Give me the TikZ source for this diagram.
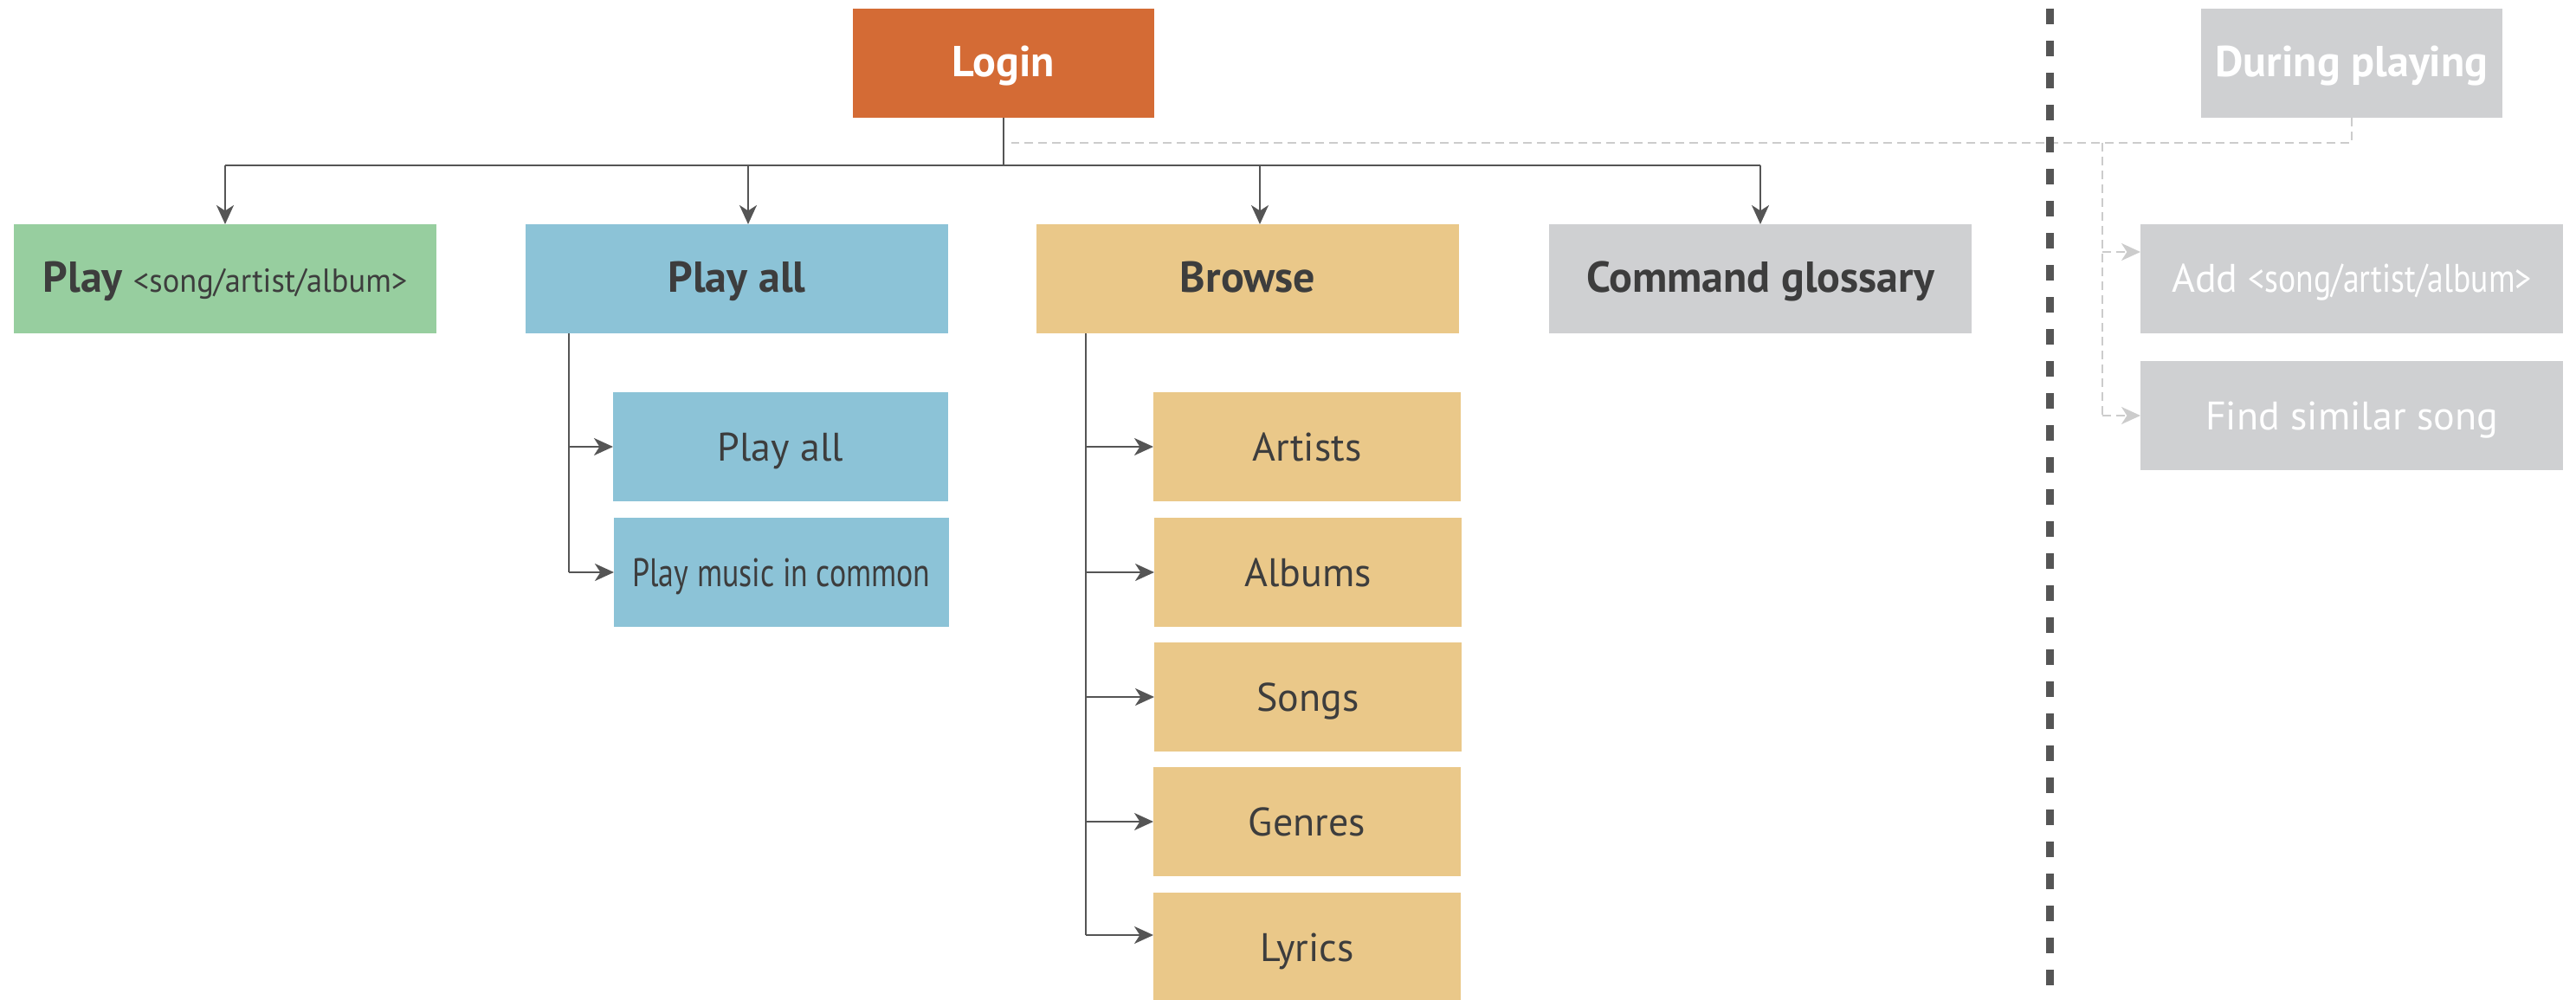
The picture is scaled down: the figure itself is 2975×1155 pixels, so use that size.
\documentclass[tikz,border=0pt]{standalone}
\usepackage{fontspec}
\setmainfont{PT Sans}
\usetikzlibrary{arrows.meta}

\definecolor{loginorange}{HTML}{D46B35}
\definecolor{playgreen}{HTML}{97CE9F}
\definecolor{playblue}{HTML}{8CC3D7}
\definecolor{browsetan}{HTML}{EAC889}
\definecolor{palegray}{HTML}{CFD0D2}
\definecolor{inkgray}{HTML}{3D3D3D}
\definecolor{wiregray}{HTML}{555555}
\definecolor{faintwire}{HTML}{CCCCCC}

\newcommand\labelfont{\fontsize{11.5}{13}\selectfont}
\newcommand\headfont{\fontsize{12.5}{14}\selectfont\bfseries}
\newcommand\smallfont{\fontsize{9.6}{11}\selectfont}
\newcommand\narrow[2]{\scalebox{#1}[1]{#2}}

\tikzset{
  box/.style={anchor=north west, inner sep=0pt, outer sep=0pt,
    minimum height=31.5pt, text height=8pt, text depth=0pt,
    align=center, font=\labelfont, text=inkgray},
  wide/.style={box, minimum width=122pt},
  headbox/.style={wide, font=\headfont},
  topbox/.style={box, minimum width=87pt, font=\headfont, text=white},
  subblue/.style={box, minimum width=96.75pt, fill=playblue},
  subtan/.style={box, minimum width=88.75pt, fill=browsetan},
  wire/.style={draw=wiregray, line width=0.6pt},
  faint/.style={draw=faintwire, line width=0.6pt, dash pattern=on 2.5pt off 1.5pt},
  divider/.style={draw=wiregray, line width=2.25pt, dash pattern=on 4.5pt off 4.75pt},
  >={Stealth[length=5.5pt, width=5pt, inset=1.6pt]}
}

\begin{document}
\begin{tikzpicture}[x=0.25pt, y=-0.25pt]
\useasboundingbox (0,0) rectangle (2975,1155);

% top level
\node[topbox, fill=loginorange] (login) at (985,10) {Login};
\node[topbox, fill=palegray] (during) at (2542,10) {During playing};

% first row
\node[wide, fill=playgreen] (play) at (16,259)
  {{\headfont Play} {\smallfont\narrow{0.95}{<song/artist/album>}}};
\node[headbox, fill=playblue] (playall) at (607,259) {Play all};
\node[headbox, fill=browsetan] (browse) at (1197,259) {Browse};
\node[headbox, fill=palegray] (glossary) at (1789,259) {Command glossary};
\node[wide, fill=palegray, text=white] (add) at (2472,259)
  {Add \narrow{0.82}{<song/artist/album>}};
\node[wide, fill=palegray, text=white] (similar) at (2472,417) {Find similar song};

% play-all children
\node[subblue] (pa) at (708,453) {Play all};
\node[subblue] (common) at (709,598) {\narrow{0.78}{Play music in common}};

% browse children
\node[subtan] (artists) at (1332,453) {Artists};
\node[subtan] (albums) at (1333,598) {Albums};
\node[subtan] (songs) at (1333,742) {Songs};
\node[subtan] (genres) at (1332,886) {Genres};
\node[subtan] (lyrics) at (1332,1031) {Lyrics};

% main bus from Login
\coordinate (busy) at (0,191);
\draw[wire] (login.south) -- (login.south |- busy);
\draw[wire] (play.north |- busy) -- (glossary.north |- busy);
\draw[wire,->] (play.north |- busy) -- (play.north);
\draw[wire,->] ([xshift=3.25pt]playall.north |- busy) -- ([xshift=3.25pt]playall.north);
\draw[wire,->] ([xshift=3.5pt]browse.north |- busy) -- ([xshift=3.5pt]browse.north);
\draw[wire,->] (glossary.north |- busy) -- (glossary.north);

% play-all branch
\coordinate (patrunk) at ([xshift=12.5pt]playall.south west);
\draw[wire] (patrunk) -- (patrunk |- common.west);
\draw[wire,->] (patrunk |- pa.west) -- (pa.west);
\draw[wire,->] (patrunk |- common.west) -- (common.west);

% browse branch
\coordinate (brtrunk) at ([xshift=14.25pt]browse.south west);
\coordinate (lyricsin) at ([yshift=3.5pt]lyrics.west);
\draw[wire] (brtrunk) -- (brtrunk |- lyricsin);
\draw[wire,->] (brtrunk |- artists.west) -- (artists.west);
\draw[wire,->] (brtrunk |- albums.west) -- (albums.west);
\draw[wire,->] (brtrunk |- songs.west) -- (songs.west);
\draw[wire,->] (brtrunk |- genres.west) -- (genres.west);
\draw[wire,->] (brtrunk |- lyricsin) -- (lyricsin);

% during-playing branch (dashed)
\coordinate (dashy) at (0,165);
\draw[faint] (during.south) |- ([xshift=2.25pt]login.south |- dashy);
\coordinate (dptrunk) at (2428,165);
\coordinate (addin) at ([yshift=7.75pt]add.west);
\draw[faint] (dptrunk) -- (dptrunk |- similar.west);
\draw[faint,->] (dptrunk |- addin) -- (addin);
\draw[faint,->] (dptrunk |- similar.west) -- (similar.west);

% divider
\coordinate (divtop) at (2367,10);
\coordinate (divbot) at (2367,1160);
\draw[divider] (divtop) -- (divbot);
\end{tikzpicture}
\end{document}
